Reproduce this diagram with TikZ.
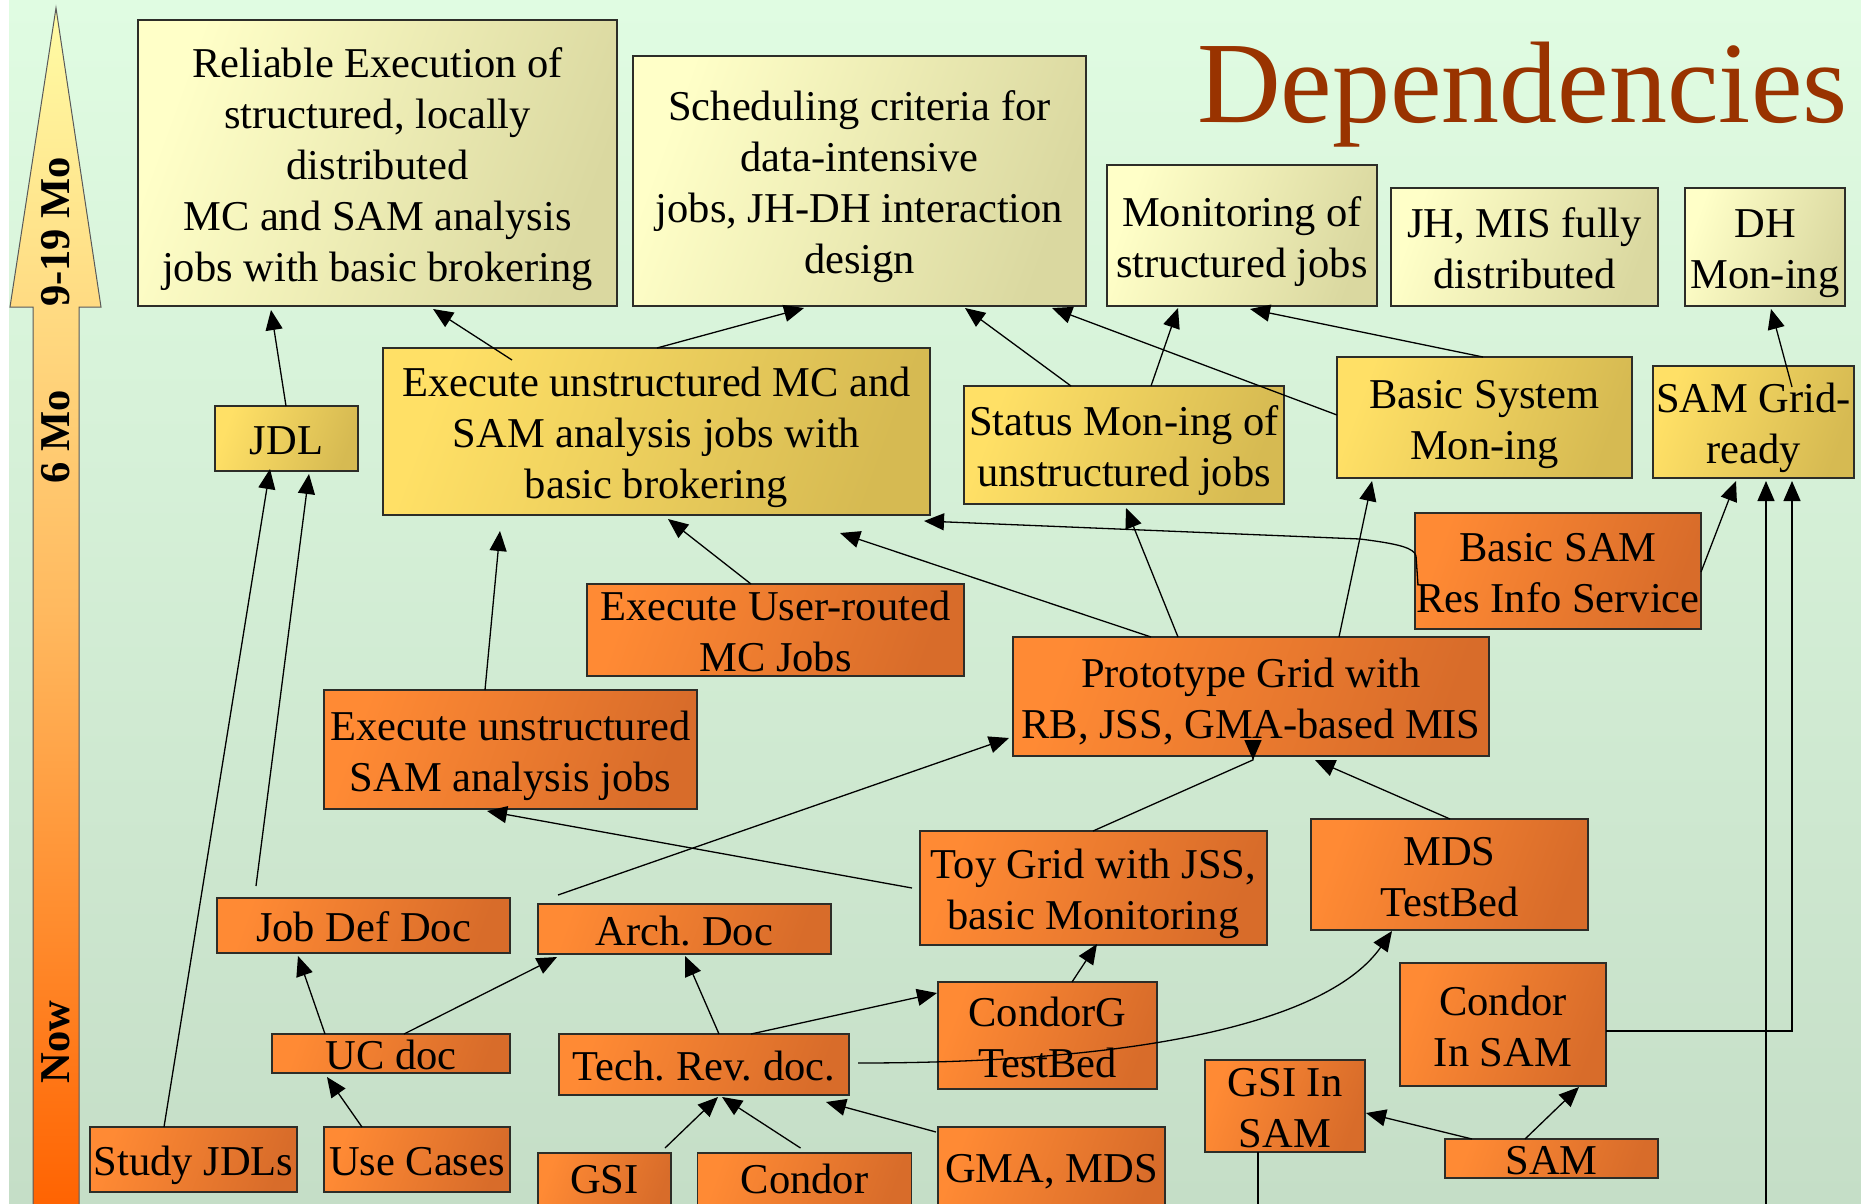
\documentclass[tikz,border=0pt]{standalone}
\usepackage{fontspec}
\setmainfont{Liberation Serif}
\usetikzlibrary{arrows.meta,calc}

\definecolor{bgtop}{RGB}{224,252,226}
\definecolor{bgbot}{RGB}{197,222,199}
\definecolor{khakiL}{RGB}{255,255,200}
\definecolor{khakiR}{RGB}{218,216,160}
\definecolor{goldL}{RGB}{255,224,102}
\definecolor{goldR}{RGB}{214,186,82}
\definecolor{orgL}{RGB}{255,138,52}
\definecolor{orgR}{RGB}{216,108,42}
\definecolor{titlered}{RGB}{153,51,0}
\definecolor{frame}{RGB}{45,45,40}
\definecolor{arrTop}{RGB}{255,252,165}
\definecolor{arrMid}{RGB}{255,185,95}
\definecolor{arrBot}{RGB}{255,98,0}

% centred block of lines whose first baseline sits 25.5n-41.5pt above the box centre
\newcommand\bt[2]{\raisebox{\dimexpr 25.5pt*#1-41.5pt\relax}[0pt][0pt]{\begin{tabular}[t]{@{}c@{}}#2\end{tabular}}}
% same, with an explicit raise
\newcommand\btr[2]{\raisebox{#1}[0pt][0pt]{\begin{tabular}[t]{@{}c@{}}#2\end{tabular}}}

\begin{document}
\begin{tikzpicture}[x=1pt,y=-1pt,
  every node/.style={inner sep=0pt, outer sep=0pt, font=\fontsize{42.5}{51}\selectfont\frenchspacing},
  box/.style 2 args={draw=frame, line width=1.2pt, minimum width=#1, minimum height=#2},
  tierA/.style={left color=khakiL, right color=khakiR, shading angle=70},
  tierB/.style={left color=goldL, right color=goldR, shading angle=70},
  tierC/.style={left color=orgL, right color=orgR, shading angle=70},
  arr/.style={-{Triangle[length=20pt,width=17pt]}, line width=1.3pt, black},
  timelbl/.style={rotate=90, font=\bfseries\fontsize{42.5}{51}\selectfont},
]
\useasboundingbox (0,0) rectangle (1861,1203);

% backdrop
\fill[top color=bgtop, bottom color=bgbot] (9,0) rectangle (1861,1203);

% time axis
\draw[draw=black!65, line width=1pt, top color=arrTop, bottom color=arrBot, middle color=arrMid]
  (33,1215) -- (33,307) -- (10,307) -- (56,8) -- (101,307) -- (79,307) -- (79,1215) -- cycle;
\node[timelbl] (t-late) at (56,232) {9-19 Mo};
\node[timelbl] (t-mid) at (56,437) {6 Mo};
\node[timelbl] (t-now) at (56,1042) {Now};

% title
\node[anchor=base west, font=\fontsize{116}{120}\selectfont, text=titlered] (title) at (1197,122) {Dependencies};

% goals (9-19 months)
\node[box={479pt}{286pt}, tierA] (rel) at (377.5,163)
  {\bt{5}{Reliable Execution of\\structured, locally\\distributed\\MC and SAM analysis\\jobs with basic brokering}};
\node[box={453pt}{250pt}, tierA] (sched) at (859.5,181)
  {\bt{4}{Scheduling criteria for\\data-intensive\\jobs, JH-DH interaction\\design}};
\node[box={270pt}{141pt}, tierA] (mon) at (1242,235.5) {\bt{2}{Monitoring of\\structured jobs}};
\node[box={267pt}{118pt}, tierA] (jhmis) at (1524.5,247) {\bt{2}{JH, MIS fully\\distributed}};
\node[box={160pt}{118pt}, tierA] (dhmon) at (1765,247) {\bt{2}{DH\\Mon-ing}};

% goals (6 months)
\node[box={143pt}{65pt}, tierB] (jdl) at (286.5,438.5) {\bt{1}{JDL}};
\node[box={547pt}{167pt}, tierB] (execmc) at (656.5,431.5)
  {\bt{3}{Execute unstructured MC and\\SAM analysis jobs with\\basic brokering}};
\node[box={320pt}{118pt}, tierB] (status) at (1124,445) {\bt{2}{Status Mon-ing of\\unstructured jobs}};
\node[box={295pt}{121pt}, tierB] (bsys) at (1484.5,417.5) {\bt{2}{Basic System\\Mon-ing}};
\node[box={201pt}{112pt}, tierB] (samgrid) at (1753.5,422) {\bt{2}{SAM Grid-\\ready}};

% current work
\node[box={286pt}{116pt}, tierC] (bsam) at (1558,571) {\bt{2}{Basic SAM\\Res Info Service}};
\node[box={377pt}{92pt}, tierC] (usermc) at (775.5,630) {\bt{2}{Execute User-routed\\MC Jobs}};
\node[box={476pt}{119pt}, tierC] (proto) at (1251,696.5) {\bt{2}{Prototype Grid with\\RB, JSS, GMA-based MIS}};
\node[box={373pt}{119pt}, tierC] (execsam) at (510.5,749.5) {\bt{2}{Execute unstructured\\SAM analysis jobs}};
\node[box={347pt}{114pt}, tierC] (toy) at (1093.5,888) {\bt{2}{Toy Grid with JSS,\\basic Monitoring}};
\node[box={277pt}{111pt}, tierC] (mds) at (1449.5,874.5) {\bt{2}{MDS\\TestBed}};
\node[box={293pt}{55pt}, tierC] (jobdef) at (363.5,925.5) {\bt{1}{Job Def Doc}};
\node[box={293pt}{50pt}, tierC] (arch) at (684.5,929) {\bt{1}{Arch. Doc}};
\node[box={238pt}{39pt}, tierC] (ucdoc) at (391,1053.5) {\bt{1}{UC doc}};
\node[box={290pt}{61pt}, tierC] (techrev) at (704,1064.5) {\bt{1}{Tech. Rev. doc.}};
\node[box={219pt}{107pt}, tierC] (condorg) at (1047.5,1035.5) {\bt{2}{CondorG\\TestBed}};
\node[box={206pt}{123pt}, tierC] (condorsam) at (1503,1024.5) {\bt{2}{Condor\\In SAM}};
\node[box={160pt}{92pt}, tierC] (gsisam) at (1285,1106) {\bt{2}{GSI In\\SAM}};
\node[box={213pt}{39pt}, tierC] (sam) at (1551.5,1158.5) {\bt{1}{SAM}};
\node[box={207pt}{65pt}, tierC] (study) at (193.5,1159.5) {\bt{1}{Study JDLs}};
\node[box={186pt}{65pt}, tierC] (usecases) at (417,1159.5) {\bt{1}{Use Cases}};
\node[box={133pt}{60pt}, tierC] (gsi) at (604.5,1183) {\btr{-10pt}{GSI}};
\node[box={214pt}{60pt}, tierC] (condor) at (804.5,1183) {\btr{-10pt}{Condor}};
\node[box={227pt}{90pt}, tierC] (gma) at (1051.5,1172) {\btr{-10pt}{GMA, MDS}};

% dependencies
\draw[arr] ($(jdl.north west)+(71,0)$) -- ($(rel.south west)+(133,4)$);
\draw[arr] ($(execmc.north west)+(129,12)$) -- ($(rel.south west)+(295,3)$);
\draw[arr] ($(execmc.north west)+(274,0)$) -- ($(sched.south west)+(171,2)$);
\draw[arr] ($(status.north west)+(107,0)$) -- ($(sched.south west)+(332,2)$);
\draw[arr] ($(status.north west)+(187,0)$) -- ($(mon.south west)+(71,2)$);
\draw[arr] ($(bsys.north west)+(0,58)$) -- ($(sched.south west)+(419,2)$);
\draw[arr] ($(bsys.north west)+(146,0)$) -- ($(mon.south west)+(143,3)$);
\draw[arr] ($(samgrid.north west)+(139,21)$) -- ($(dhmon.south west)+(86,3)$);
\draw[arr] ($(bsam.north east)+(0,59)$) -- ($(samgrid.south west)+(83,3)$);
\draw[arr] ($(condorsam.north east)+(0,68)$) -| ($(samgrid.south west)+(139,3)$);
\draw[arr] ($(gsisam.south west)+(53,0)$) -- ++(0,80) -| ($(samgrid.south west)+(113,3)$);
\draw[arr] ($(bsam.north west)+(3,72)$) -- ($(bsam.north west)+(1,43)$)
  .. controls +(-2,-8) and +(40,5) .. ($(bsam.north west)+(-55,26)$)
  -- ($(execmc.south east)+(-6,6)$);
\draw[arr] ($(usermc.north west)+(164,0)$) -- ($(execmc.south west)+(285,4)$);
\draw[arr] ($(proto.north west)+(138,0)$) -- ($(execmc.south west)+(457,18)$);
\draw[arr] ($(proto.north west)+(165,0)$) -- ($(status.south west)+(162,4)$);
\draw[arr] ($(proto.north west)+(326,0)$) -- ($(bsys.south west)+(35,3)$);
\draw[arr] ($(execsam.north west)+(161,0)$) -- ($(execmc.south west)+(117,16)$);
\draw[arr] ($(arch.north west)+(20,-9)$) -- ($(proto.south west)+(-4,-18)$);
\draw[arr] ($(toy.north west)+(-8,57)$) -- ($(execsam.south west)+(163,2)$);
\draw[arr] ($(toy.north west)+(173,0)$) -- ($(proto.south west)+(240,3.9)$) -- ($(proto.south west)+(240,4)$);
\draw[arr] ($(mds.north west)+(139,0)$) -- ($(proto.south west)+(302,4)$);
\draw[arr] ($(jobdef.north west)+(39,-12)$) -- ($(jdl.south west)+(94,3)$);
\draw[arr] ($(study.north west)+(74,0)$) -- ($(jdl.south west)+(55,-2)$);
\draw[arr] ($(ucdoc.north west)+(53,0)$) -- ($(jobdef.south west)+(81,3)$);
\draw[arr] ($(ucdoc.north west)+(132,0)$) -- ($(arch.south west)+(19,3)$);
\draw[arr] ($(usecases.north west)+(38,0)$) -- ($(ucdoc.south west)+(55,4)$);
\draw[arr] ($(techrev.north west)+(160,0)$) -- ($(arch.south west)+(147,2)$);
\draw[arr] ($(techrev.north west)+(192,0)$) -- ($(condorg.north west)+(-1,11)$);
\draw[arr] ($(techrev.north east)+(9,29)$) .. controls +(292,0) and +(-62,89) ..
  ($(mds.south west)+(81,1)$);
\draw[arr] ($(condorg.north west)+(134,0)$) -- ($(toy.south west)+(177,-1)$);
\draw[arr] ($(gsi.north west)+(127,-5)$) -- ($(techrev.south west)+(159,2)$);
\draw[arr] ($(condor.north west)+(103,-5)$) -- ($(techrev.south west)+(163,2)$);
\draw[arr] ($(gma.north west)+(-2,5)$) -- ($(techrev.south west)+(267,7)$);
\draw[arr] ($(sam.north west)+(80,0)$) -- ($(condorsam.south west)+(179,1)$);
\draw[arr] ($(sam.north west)+(27,0)$) -- ($(gsisam.north east)+(1,53)$);
\end{tikzpicture}
\end{document}
